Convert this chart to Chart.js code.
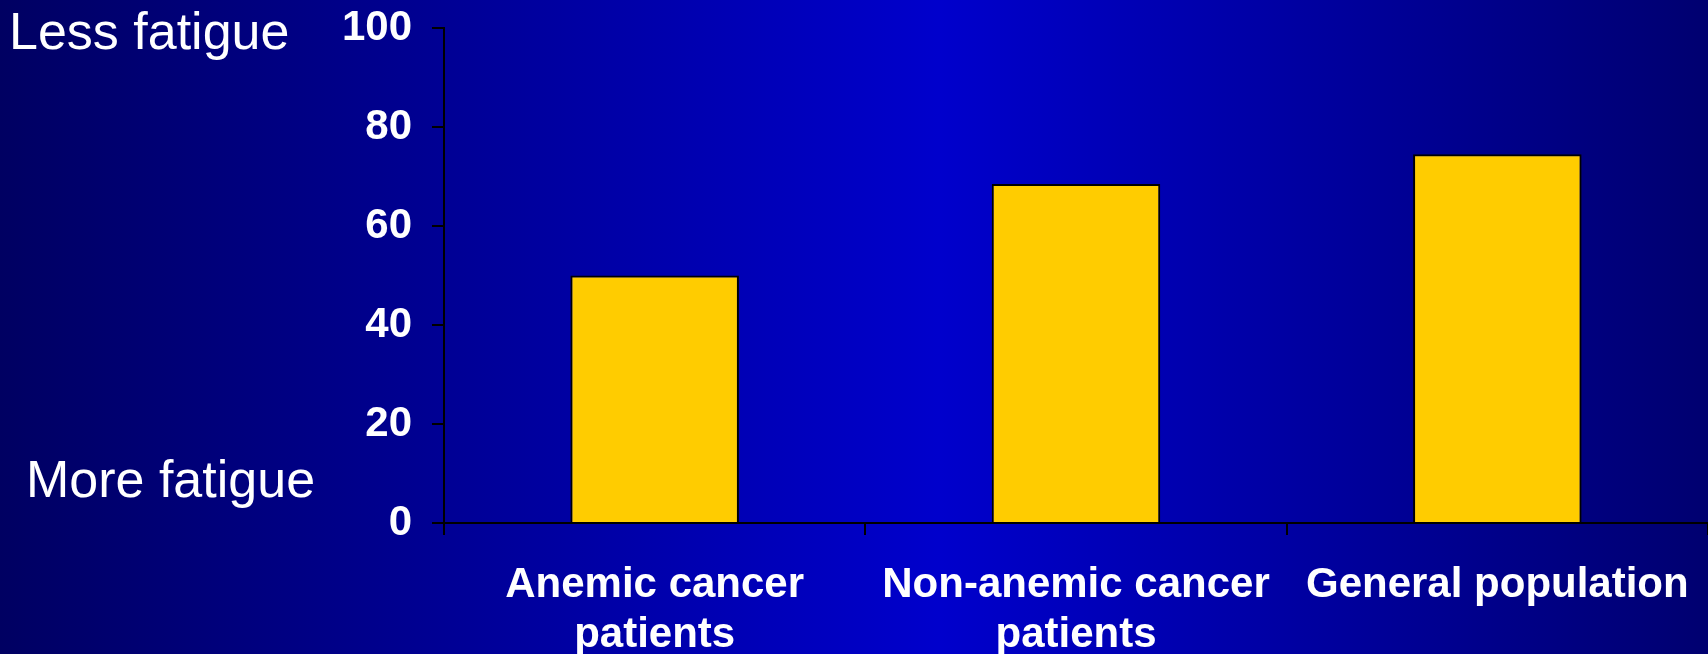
<!DOCTYPE html>
<html>
<head>
<meta charset="utf-8">
<script src="https://cdn.jsdelivr.net/npm/chart.js@4/dist/chart.umd.min.js"></script>
<style>
  html, body { margin: 0; padding: 0; background: #00007a; overflow: hidden; }
  #wrap { width: 1708px; height: 654px; position: relative; }
</style>
</head>
<body>
<div id="wrap"><canvas id="c" width="1708" height="654"></canvas></div>
<script>
// Fatigue scores by group (higher = less fatigue)
const categories = [
  ['Anemic cancer', 'patients'],
  ['Non-anemic cancer', 'patients'],
  ['General population']
];
const fatigueScores = [50, 68.5, 74.5];
const yTicks = [0, 20, 40, 60, 80, 100];
const scaleTopLabel = 'Less fatigue';
const scaleBottomLabel = 'More fatigue';

const FONT = '"Liberation Sans", Arial, Helvetica, sans-serif';

// Slide-style horizontal blue gradient behind the whole chart
const backdrop = {
  id: 'backdrop',
  beforeDraw(chart) {
    const { ctx, width, height } = chart;
    const g = ctx.createLinearGradient(0, 0, width, 0);
    g.addColorStop(0, '#000062');
    g.addColorStop(0.55, '#0000cc');
    g.addColorStop(1, '#000070');
    ctx.save();
    ctx.fillStyle = g;
    ctx.fillRect(0, 0, width, height);
    ctx.restore();
  }
};

// Direction hints next to the value axis
const axisHints = {
  id: 'axisHints',
  afterDraw(chart) {
    const { ctx } = chart;
    const y = chart.scales.y;
    ctx.save();
    ctx.fillStyle = '#ffffff';
    ctx.font = '52px ' + FONT;
    ctx.textAlign = 'left';
    ctx.textBaseline = 'alphabetic';
    ctx.fillText(scaleTopLabel, 9, y.getPixelForValue(y.max) + 21);
    ctx.fillText(scaleBottomLabel, 26, y.getPixelForValue(y.min) - 26);
    ctx.restore();
  }
};

new Chart(document.getElementById('c'), {
  type: 'bar',
  data: {
    labels: categories,
    datasets: [{
      data: fatigueScores,
      backgroundColor: '#ffcc00',
      borderColor: '#000000',
      borderWidth: 2,
      categoryPercentage: 1,
      barPercentage: 0.4
    }]
  },
  options: {
    responsive: false,
    animation: false,
    events: [],
    layout: { padding: 0 },
    plugins: {
      legend: { display: false },
      tooltip: { enabled: false }
    },
    scales: {
      x: {
        offset: true,
        grid: {
          offset: true,
          drawOnChartArea: false,
          drawTicks: true,
          tickLength: 12,
          color: '#000000',
          lineWidth: 2
        },
        border: { display: true, color: '#000000', width: 2 },
        ticks: {
          color: '#ffffff',
          font: { family: FONT, size: 42, weight: 'bold', lineHeight: 1.2 },
          padding: 25,
          maxRotation: 0,
          autoSkip: false
        },
        afterFit(scale) {
          scale.height = 131;
          scale.paddingLeft = 0;
          scale.paddingRight = 0;
        }
      },
      y: {
        min: 0,
        max: 100,
        afterBuildTicks(scale) { scale.ticks = yTicks.map(v => ({ value: v })); },
        grid: {
          drawOnChartArea: false,
          drawTicks: true,
          tickLength: 12,
          color: '#000000',
          lineWidth: 2
        },
        border: { display: true, color: '#000000', width: 2 },
        ticks: {
          color: '#ffffff',
          font: { family: FONT, size: 42, weight: 'bold', lineHeight: 1.2 },
          padding: 20
        },
        afterFit(scale) {
          scale.width = 444;
          scale.paddingTop = 28;
        }
      }
    }
  },
  plugins: [backdrop, axisHints]
});
</script>
</body>
</html>
